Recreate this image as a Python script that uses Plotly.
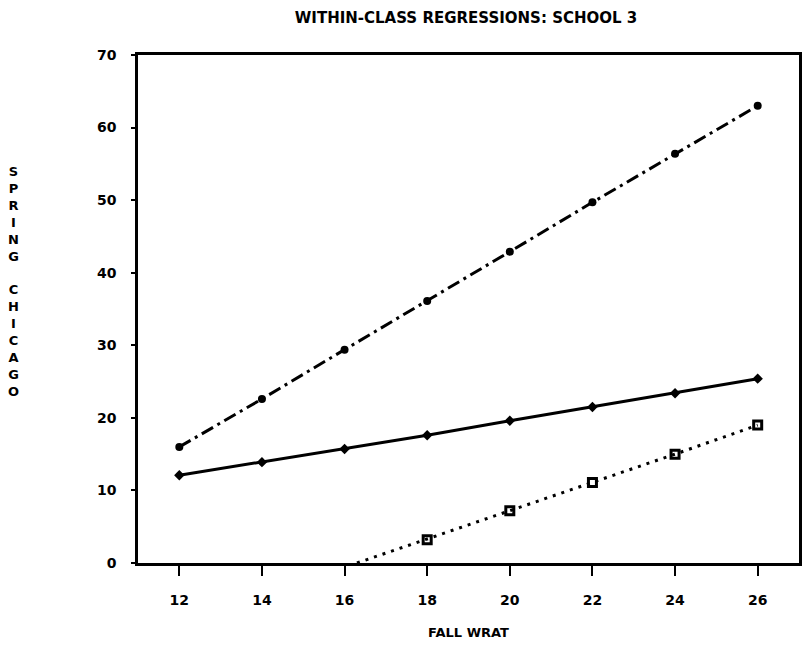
import plotly.graph_objects as go

# Data
fall_wrat = [12, 14, 16, 18, 20, 22, 24, 26]
dashdot_vals = [16.0, 22.6, 29.4, 36.1, 42.9, 49.7, 56.4, 63.0]
solid_vals = [12.1, 13.9, 15.7, 17.6, 19.6, 21.5, 23.4, 25.4]
dotted_line_x = [16.3, 18, 20, 22, 24, 26]
dotted_line_y = [0.0, 3.3, 7.2, 11.1, 15.0, 19.0]
square_x = [18, 20, 22, 24, 26]
square_y = [3.2, 7.2, 11.1, 15.0, 19.0]

x_ticks = [12, 14, 16, 18, 20, 22, 24, 26]
y_ticks = [0, 10, 20, 30, 40, 50, 60, 70]

title_text = "WITHIN-CLASS REGRESSIONS: SCHOOL 3"
x_title = "FALL WRAT"
y_title = "SPRING CHICAGO"

FONT = "DejaVu Sans, sans-serif"

fig = go.Figure()

fig.add_trace(go.Scatter(
    x=fall_wrat, y=dashdot_vals, mode="lines+markers",
    line=dict(color="black", width=3, dash="13px,5px,3px,5px"),
    marker=dict(symbol="circle", size=8, color="black"),
    showlegend=False))

fig.add_trace(go.Scatter(
    x=fall_wrat, y=solid_vals, mode="lines+markers",
    line=dict(color="black", width=3),
    marker=dict(symbol="diamond", size=8, color="black"),
    showlegend=False))

fig.add_trace(go.Scatter(
    x=dotted_line_x, y=dotted_line_y, mode="lines",
    line=dict(color="black", width=3, dash="3px,6px"),
    showlegend=False))

fig.add_trace(go.Scatter(
    x=square_x, y=square_y, mode="markers",
    marker=dict(symbol="square-open", size=8, color="black", line=dict(width=3, color="black")),
    showlegend=False))

# stacked vertical y-axis title
fig.add_annotation(
    text="<br>".join(list(y_title)),
    xref="paper", yref="paper", x=-0.189, y=0.555,
    xanchor="center", yanchor="middle", showarrow=False,
    font=dict(family=FONT, size=13, color="black", weight="bold"),
    align="center")

fig.update_layout(
    width=806, height=647,
    margin=dict(l=138, r=4, t=55, b=84),
    paper_bgcolor="white", plot_bgcolor="white",
    title=dict(text=title_text, x=466 / 806, xanchor="center", y=1 - 18 / 647, yanchor="middle",
               font=dict(family=FONT, size=15, color="black", weight="bold")),
    font=dict(family=FONT, color="black"),
    xaxis=dict(range=[11, 27], tickvals=x_ticks, ticktext=[str(v) for v in x_ticks],
               showgrid=False, zeroline=False, showline=True, linecolor="black", linewidth=2.5,
               mirror=True, ticks="outside", ticklen=10, tickwidth=2, tickcolor="black",
               ticklabelstandoff=12,
               tickfont=dict(family=FONT, size=14, color="black", weight="bold"),
               title=dict(text=x_title, standoff=22,
                          font=dict(family=FONT, size=13, color="black", weight="bold"))),
    yaxis=dict(range=[0, 70], tickvals=y_ticks, ticktext=[str(v) for v in y_ticks],
               showgrid=False, zeroline=False, showline=True, linecolor="black", linewidth=2.5,
               mirror=True, ticks="outside", ticklen=4, tickwidth=2, tickcolor="black",
               ticklabelstandoff=12,
               tickfont=dict(family=FONT, size=14, color="black", weight="bold")),
)

fig.write_html("out.html")
